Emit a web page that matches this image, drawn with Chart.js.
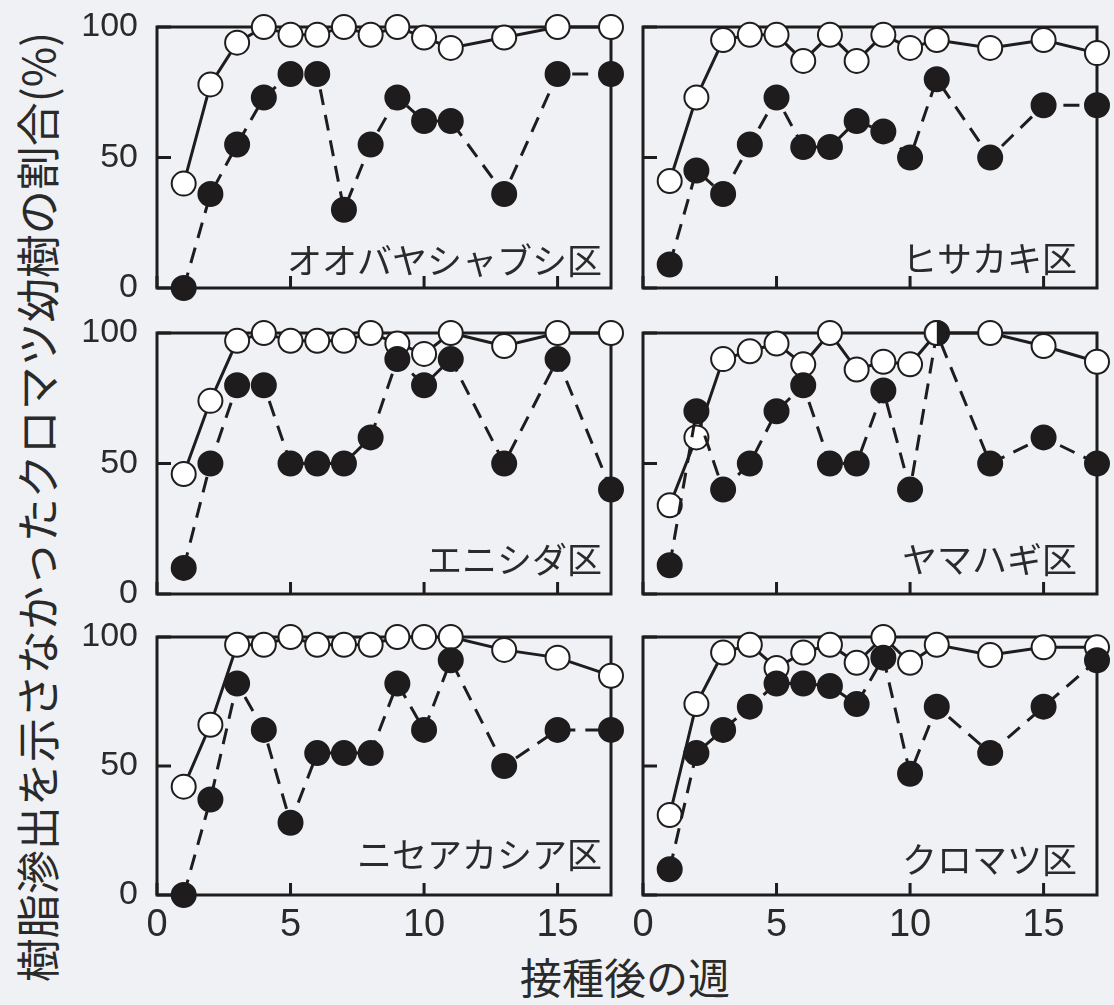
<!DOCTYPE html>
<html lang="ja">
<head>
<meta charset="utf-8">
<title>接種後の週と樹脂滲出</title>
<script src="https://cdn.jsdelivr.net/npm/chart.js@4.4.1/dist/chart.umd.min.js"></script>
<style>
  html, body { margin: 0; padding: 0; background: #f0f1f4; }
  body {
    width: 1114px; height: 1005px; position: relative; overflow: hidden;
    font-family: 'Noto Sans CJK JP', 'Noto Sans', sans-serif; color: #2a2a2a;
  }
  canvas { position: absolute; }
  .site-label {
    position: absolute; font-size: 35px; line-height: 40px; height: 40px;
    white-space: nowrap; text-align: right; width: 400px;
  }
  #ytitle {
    position: absolute; left: 36px; top: 507px; font-size: 44px; line-height: 48px;
    white-space: nowrap; transform: translate(-50%, -50%) rotate(-90deg);
  }
  #xtitle {
    position: absolute; left: 625px; top: 976px; font-size: 42px; line-height: 48px;
    white-space: nowrap; transform: translate(-50%, -50%);
  }
</style>
</head>
<body>
<div id="ytitle">樹脂滲出を示さなかったクロマツ幼樹の割合(%)</div>
<div id="xtitle">接種後の週</div>

<script>
// Survey weeks after inoculation (weeks 12, 14 and 16 were not surveyed)
const weeks = [1, 2, 3, 4, 5, 6, 7, 8, 9, 10, 11, 13, 15, 17];
const xTickValues = [0, 5, 10, 15];
const yTickValues = [0, 50, 100];

const siteNames = ['オオバヤシャブシ区', 'ヒサカキ区', 'エニシダ区', 'ヤマハギ区', 'ニセアカシア区', 'クロマツ区'];

// Percentages per site: open circles (solid line) and filled circles (dashed line)
const openOobayashabushi   = [40, 78, 94, 100, 97, 97, 100, 97, 100, 96, 92, 96, 100, 100];
const filledOobayashabushi = [0, 36, 55, 73, 82, 82, 30, 55, 73, 64, 64, 36, 82, 82];

const openHisakaki   = [41, 73, 95, 97, 97, 87, 97, 87, 97, 92, 95, 92, 95, 90];
const filledHisakaki = [9, 45, 36, 55, 73, 54, 54, 64, 60, 50, 80, 50, 70, 70];

const openEnishida   = [46, 74, 97, 100, 97, 97, 97, 100, 96, 92, 100, 95, 100, 100];
const filledEnishida = [10, 50, 80, 80, 50, 50, 50, 60, 90, 80, 90, 50, 90, 40];

const openYamahagi   = [34, 60, 90, 93, 96, 88, 100, 86, 89, 88, 100, 100, 95, 89];
const filledYamahagi = [11, 70, 40, 50, 70, 80, 50, 50, 78, 40, 100, 50, 60, 50];

const openNiseakashia   = [42, 66, 97, 97, 100, 97, 97, 97, 100, 100, 100, 95, 92, 85];
const filledNiseakashia = [0, 37, 82, 64, 28, 55, 55, 55, 82, 64, 91, 50, 64, 64];

const openKuromatsu   = [31, 74, 94, 97, 88, 94, 97, 90, 100, 90, 97, 93, 96, 96];
const filledKuromatsu = [10, 55, 64, 73, 82, 82, 81, 74, 92, 47, 73, 55, 73, 91];

const openSeries   = [openOobayashabushi, openHisakaki, openEnishida, openYamahagi, openNiseakashia, openKuromatsu];
const filledSeries = [filledOobayashabushi, filledHisakaki, filledEnishida, filledYamahagi, filledNiseakashia, filledKuromatsu];

// ---- styling ----
const INK = '#1e1c1d';
const TEXT = '#2a2a2a';
const MARK_R = 12;
const MARK_BW = 2;
const NUM_FONT = "'Liberation Sans', Arial, sans-serif";

// panel frames in page pixels
const colLeft = [157, 643];
const colWidth = 454;
const rowTop = [27, 333, 637];
const rowHeight = [261, 261, 258];
const labelCenterY = [[259, 257], [558, 558], [853, 858]];
const labelRight = [602, 1077];

// marker for weeks where both groups share the same value: half open, half filled
function makeSplitMarker() {
  const s = 2 * (MARK_R + MARK_BW) + 2;
  const c = document.createElement('canvas');
  c.width = s; c.height = s;
  const g = c.getContext('2d');
  const m = s / 2;
  g.beginPath(); g.arc(m, m, MARK_R, 0, Math.PI * 2); g.fillStyle = '#ffffff'; g.fill();
  g.beginPath(); g.arc(m, m, MARK_R, -Math.PI / 2, Math.PI / 2); g.closePath(); g.fillStyle = INK; g.fill();
  g.beginPath(); g.arc(m, m, MARK_R, 0, Math.PI * 2); g.lineWidth = MARK_BW; g.strokeStyle = INK; g.stroke();
  return c;
}
const splitMarker = makeSplitMarker();

// box frame and inward tick marks, drawn beneath the data
const framePlugin = {
  id: 'panelFrame',
  beforeDatasetsDraw(chart) {
    const { ctx, chartArea: a, scales: { x, y } } = chart;
    ctx.save();
    ctx.strokeStyle = INK;
    ctx.lineWidth = 3;
    ctx.lineCap = 'square';
    ctx.strokeRect(a.left, a.top, a.right - a.left, a.bottom - a.top);
    ctx.lineCap = 'butt';
    ctx.beginPath();
    x.ticks.forEach(t => {
      const px = x.getPixelForValue(t.value);
      ctx.moveTo(px, a.bottom); ctx.lineTo(px, a.bottom - 12);
    });
    y.ticks.forEach(t => {
      const py = y.getPixelForValue(t.value);
      ctx.moveTo(a.left, py); ctx.lineTo(a.left + 14, py);
    });
    ctx.stroke();
    ctx.restore();
  }
};

// fixed axis box sizes so every panel's plot area lands on the same grid
function fixBox(size, horizontal) {
  return s => {
    if (horizontal) s.height = size; else s.width = size;
    s.paddingTop = 0; s.paddingBottom = 0; s.paddingLeft = 0; s.paddingRight = 0;
  };
}

function buildPanel(idx) {
  const row = Math.floor(idx / 2), col = idx % 2;
  const leftCol = col === 0, bottomRow = row === 2;
  const yAxisW = leftCol ? 97 : 20;
  const padTop = 27, padRight = 16;
  const padBottom = bottomRow ? 10 : 27;
  const xAxisH = bottomRow ? 60 : 0;

  const canvas = document.createElement('canvas');
  const cLeft = colLeft[col] - yAxisW;
  const cTop = rowTop[row] - padTop;
  const cW = yAxisW + colWidth + padRight;
  const cH = padTop + rowHeight[row] + xAxisH + padBottom;
  canvas.style.left = cLeft + 'px';
  canvas.style.top = cTop + 'px';
  canvas.style.width = cW + 'px';
  canvas.style.height = cH + 'px';
  canvas.width = cW; canvas.height = cH;
  document.body.appendChild(canvas);

  const open = openSeries[idx], filled = filledSeries[idx];
  const toPoints = vals => weeks.map((w, i) => ({ x: w, y: vals[i] }));

  new Chart(canvas, {
    type: 'line',
    data: {
      datasets: [
        {
          data: toPoints(filled),
          borderColor: INK,
          borderWidth: 3,
          borderDash: [16, 10],
          pointRadius: MARK_R,
          pointBorderWidth: MARK_BW,
          pointBackgroundColor: INK,
          pointBorderColor: INK,
          pointStyle: ctx => (filled[ctx.dataIndex] === open[ctx.dataIndex] ? splitMarker : 'circle'),
          tension: 0,
          clip: false
        },
        {
          data: toPoints(open),
          borderColor: INK,
          borderWidth: 3,
          pointRadius: MARK_R,
          pointBorderWidth: MARK_BW,
          pointBackgroundColor: '#ffffff',
          pointBorderColor: INK,
          tension: 0,
          clip: false
        }
      ]
    },
    options: {
      responsive: false,
      animation: false,
      events: [],
      layout: { padding: { left: 0, right: padRight, top: padTop, bottom: padBottom } },
      plugins: { legend: { display: false }, tooltip: { enabled: false }, title: { display: false } },
      scales: {
        x: {
          type: 'linear', min: 0, max: 17,
          afterBuildTicks: s => { s.ticks = xTickValues.map(v => ({ value: v })); },
          afterFit: fixBox(xAxisH, true),
          ticks: {
            display: bottomRow, includeBounds: false, padding: 8, maxRotation: 0,
            color: TEXT, font: { family: NUM_FONT, size: 38 }
          },
          grid: { display: false, drawTicks: false },
          border: { display: false }
        },
        y: {
          type: 'linear', min: 0, max: 100,
          afterBuildTicks: s => { s.ticks = yTickValues.map(v => ({ value: v })); },
          afterFit: fixBox(yAxisW, false),
          ticks: {
            display: leftCol, padding: 19,
            color: TEXT, font: { family: NUM_FONT, size: 34 }
          },
          grid: { display: false, drawTicks: false },
          border: { display: false }
        }
      }
    },
    plugins: [framePlugin]
  });

  const lab = document.createElement('div');
  lab.className = 'site-label';
  lab.textContent = siteNames[idx];
  lab.style.left = (labelRight[col] - 400) + 'px';
  lab.style.top = (labelCenterY[row][col] - 20) + 'px';
  document.body.appendChild(lab);
}

for (let i = 0; i < 6; i++) buildPanel(i);
</script>
</body>
</html>
